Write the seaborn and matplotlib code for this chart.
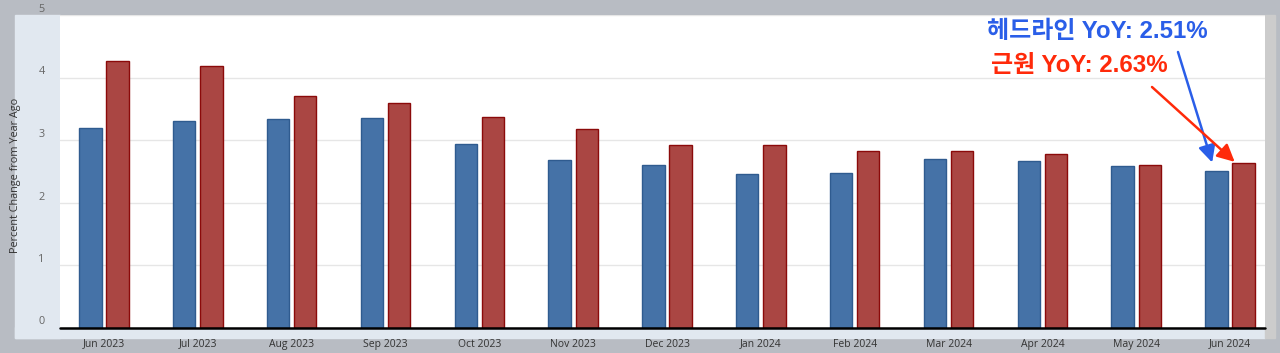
import numpy as np
import pandas as pd
import seaborn as sns
import matplotlib.pyplot as plt
from matplotlib.patches import Rectangle

months = ['Jun 2023', 'Jul 2023', 'Aug 2023', 'Sep 2023', 'Oct 2023', 'Nov 2023',
          'Dec 2023', 'Jan 2024', 'Feb 2024', 'Mar 2024', 'Apr 2024', 'May 2024', 'Jun 2024']
headline = [3.19, 3.30, 3.33, 3.36, 2.94, 2.68, 2.60, 2.46, 2.47, 2.70, 2.66, 2.58, 2.51]
core = [4.26, 4.18, 3.70, 3.59, 3.37, 3.18, 2.92, 2.92, 2.82, 2.82, 2.78, 2.60, 2.63]
series_names = ['Headline', 'Core']
yticks = [0, 1, 2, 3, 4, 5]

df = pd.DataFrame({
    'month': months * 2,
    'series': [series_names[0]] * len(months) + [series_names[1]] * len(months),
    'value': headline + core,
})

W, H = 1280, 353
sns.set_theme(style='white')
plt.rcParams['font.family'] = ['Open Sans', 'DejaVu Sans']

fig = plt.figure(figsize=(W / 100, H / 100), dpi=100, facecolor='#b8bcc3')

# panel background strips (left axis strip, bottom strip, right scroll strip)
def px_rect(x0, y0, x1, y1, color):
    fig.patches.append(Rectangle((x0 / W, 1 - y1 / H), (x1 - x0) / W, (y1 - y0) / H,
                                 transform=fig.transFigure, color=color, zorder=-5))

px_rect(15, 15, 60, 338, '#e1e8f0')
px_rect(15, 327, 1265, 338, '#e1e8f0')
px_rect(1265, 15, 1275, 338, '#cccccc')

ax = fig.add_axes([60 / W, 1 - 327.5 / H, 1205 / W, (327.5 - 15) / H])
ax.set_facecolor('white')

sns.barplot(data=df, x='month', y='value', hue='series',
            palette=['#4572a7', '#aa4643'], saturation=1, width=0.58, gap=0.18,
            legend=False, ax=ax, zorder=3)

edges = ['#2f5b8f', '#8b0a0a']
for cont, ec in zip(ax.containers, edges):
    for bar in cont:
        bar.set_edgecolor(ec)
        bar.set_linewidth(1.0)

ax.set_xlim(-0.469, 12.373)
ax.set_ylim(0, 5)
ax.set_yticks(yticks)
ax.set_yticklabels([str(t) for t in yticks])
for lab in ax.get_yticklabels():
    lab.set_verticalalignment('bottom')
ax.grid(axis='y', color='#e6e6e6', linewidth=1, zorder=0)
ax.set_axisbelow(True)
for s in ax.spines.values():
    s.set_visible(False)
ax.axhline(0, color='black', linewidth=1.8, zorder=5, clip_on=False)

ax.tick_params(axis='y', length=0, pad=11, labelsize=7.8, labelcolor='#666666')
ax.tick_params(axis='x', length=8, width=0.8, color='#c8d3e6', direction='out',
               pad=0, labelsize=7.5, labelcolor='#333333')
ax.set_xlabel('')
ax.set_ylabel('')

fig.text(16 / W, 1 - 175 / H, 'Percent Change from Year Ago', rotation=90,
         ha='center', va='center', fontsize=7.8, color='#333333')

# annotations
kfont = ['Liberation Sans', 'Noto Sans CJK KR']
blue_c = '#2a5ee8'
red_c = '#ff2a0a'
fig.text(987 / W, 1 - 31 / H, f'헤드라인 YoY: {headline[-1]:.2f}%', family=kfont,
         fontsize=17.3, fontweight='bold', color=blue_c, ha='left', va='center')
fig.text(991 / W, 1 - 66 / H, f'근원 YoY: {core[-1]:.2f}%', family=kfont,
         fontsize=17.3, fontweight='bold', color=red_c, ha='left', va='center')

n = len(months) - 1
ax.annotate('', xy=(n - 0.19, headline[-1] + 0.13), xycoords='data',
            xytext=(1178, H - 52), textcoords='figure pixels',
            arrowprops=dict(arrowstyle='-|>', color=blue_c, lw=1.8, mutation_scale=26,
                            shrinkA=0, shrinkB=0),
            annotation_clip=False, zorder=6)
ax.annotate('', xy=(n + 0.05, core[-1] + 0.02), xycoords='data',
            xytext=(1152, H - 87), textcoords='figure pixels',
            arrowprops=dict(arrowstyle='-|>', color=red_c, lw=1.8, mutation_scale=26,
                            shrinkA=0, shrinkB=0),
            annotation_clip=False, zorder=6)

fig.savefig('out.png', dpi=100, facecolor=fig.get_facecolor())
